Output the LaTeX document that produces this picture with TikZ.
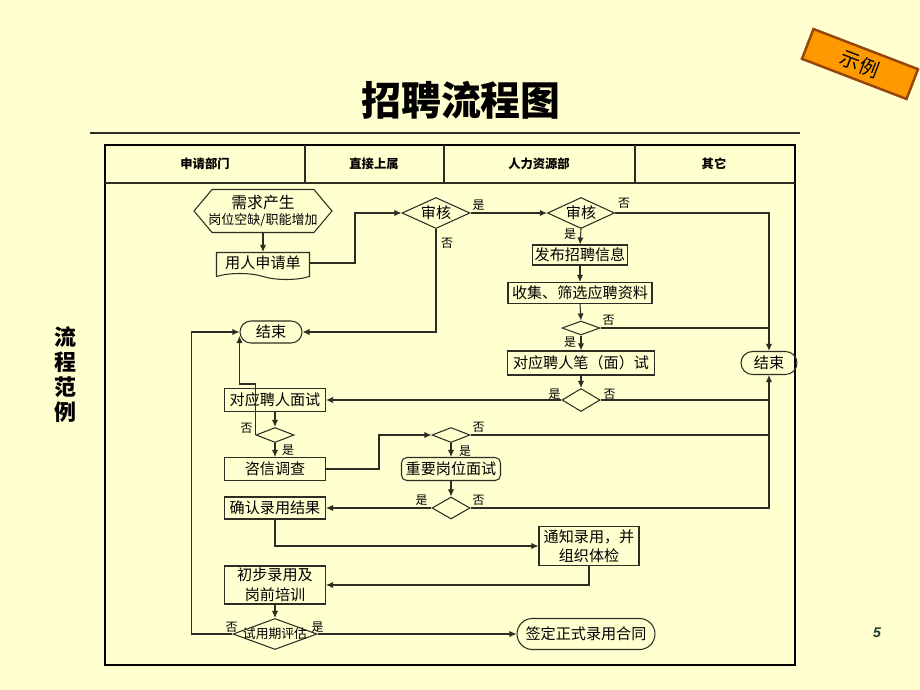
\documentclass[tikz,border=0pt]{standalone}
\usepackage{fontspec}
\setmainfont{Noto Sans CJK SC}
\newfontfamily\numfont{Liberation Sans}
\usetikzlibrary{shapes.geometric,shapes.symbols,shapes.misc,calc,arrows.meta}
\definecolor{paper}{RGB}{255,255,208}
\definecolor{ink}{RGB}{45,45,35}
\definecolor{badge}{RGB}{255,153,0}
\definecolor{badgeline}{RGB}{150,70,10}
\definecolor{pagenum}{RGB}{30,60,50}

\begin{document}
\begin{tikzpicture}[
  x=0.02cm, y=-0.02cm,
  line width=0.6pt,
  txt/.style={font=\fontsize{8.6}{10.8}\selectfont},
  box/.style={
    txt,
    rectangle,
    draw=ink,
    inner sep=0pt,
    minimum width=2.02cm,
    minimum height=0.46cm,
    align=center
  },
  dia/.style={
    diamond,
    draw=ink,
    inner sep=0pt,
    minimum width=0.76cm,
    minimum height=0.3cm
  },
  stop/.style={
    txt,
    rounded rectangle,
    draw=ink,
    inner sep=0pt,
    minimum width=1.2cm,
    minimum height=0.46cm
  },
  lbl/.style={font=\fontsize{6.8}{8}\selectfont, inner sep=0pt},
  head/.style={font=\fontsize{7}{8}\selectfont\bfseries, inner sep=0pt},
  arr/.style={draw=ink, -{Latex[length=4pt,width=3.6pt]}},
  con/.style={draw=ink}
]
% page
\useasboundingbox[fill=paper] (0,0) rectangle (920,690);

% title and frame
\node[font=\fontsize{22.7}{26}\selectfont\bfseries] (title) at (461,100) {招聘流程图};
\draw[ink, line width=1.2pt] (90,133) -- (800,133);
\draw[black, line width=1.6pt] (105,145) rectangle (795,665);
\draw[ink] (105,183) -- (795,183);
\foreach \cx in {305,444,635}
  \draw[ink] (\cx,145) -- (\cx,183);
\node[head] (h1) at (205,164) {申请部门};
\node[head] (h2) at (374,164) {直接上属};
\node[head] (h3) at (539,164) {人力资源部};
\node[head] (h4) at (714,164) {其它};
\node[font=\fontsize{12.5}{14.2}\selectfont\bfseries, align=center] (side) at (65,375) {流\\程\\范\\例};

% badge and page number
\node[rotate=-21, fill=badge, draw=badgeline, line width=1.4pt,
  minimum width=2.24cm, minimum height=0.64cm,
  font=\fontsize{11.3}{12}\selectfont] (badge) at (860,64) {示例};
\node[text=pagenum, font=\numfont\fontsize{8}{9}\selectfont\bfseries\itshape] (pg) at (877,633) {5};

% nodes
\node[signal, signal to=west and east, signal pointer angle=100, draw=ink,
  minimum width=2.76cm, minimum height=0.86cm, inner sep=0pt,
  label={[align=center, font=\fontsize{7.4}{9}\selectfont]center:{\fontsize{9}{10}\selectfont 需求产生}\\岗位空缺/职能增加}]
  (need) at (263,211) {};
\node[txt, tape, tape bend top=none, tape bend bottom=out and in, tape bend height=0.12cm,
  draw=ink, inner sep=0pt, minimum width=1.86cm, minimum height=0.54cm] (app) at (263,263) {用人申请单};
\node[dia, minimum width=1.36cm, minimum height=0.62cm, label={[txt]center:审核}] (d1) at (436,213) {};
\node[dia, minimum width=1.34cm, minimum height=0.62cm, label={[txt]center:审核}] (d2) at (581,213) {};
\node[box, minimum width=1.9cm, minimum height=0.4cm] (pub) at (580,255) {发布招聘信息};
\node[box, minimum width=2.88cm, minimum height=0.42cm] (col) at (580,293) {收集、筛选应聘资料};
\node[dia, minimum height=0.28cm] (d3) at (581,328) {};
\node[box, minimum width=2.94cm, minimum height=0.48cm] (wt) at (581,363) {对应聘人笔（面）试};
\node[stop, minimum width=1.12cm] (end2) at (769,363) {结束};
\node[dia, minimum height=0.46cm] (d4) at (581,400) {};
\node[box] (iv) at (275,400) {对应聘人面试};
\node[stop, minimum width=1.24cm, minimum height=0.44cm] (end1) at (271,332) {结束};
\node[dia] (d5) at (275,435) {};
\node[box] (ref) at (275,469) {咨信调查};
\node[dia] (d6) at (451,435) {};
\node[box, rounded corners=3pt, minimum width=1.98cm] (key) at (451,469) {重要岗位面试};
\node[dia, minimum height=0.44cm] (d7) at (451,508) {};
\node[box, minimum height=0.44cm] (conf) at (275,508) {确认录用结果};
\node[box, minimum width=2cm, minimum height=0.78cm] (notice) at (589,546) {通知录用，并\\组织体检};
\node[box, minimum height=0.76cm, font=\fontsize{8.6}{11.3}\selectfont] (train) at (275,585) {初步录用及\\岗前培训};
\node[dia, minimum width=1.68cm, minimum height=0.62cm,
  label={[font=\fontsize{7.3}{8}\selectfont]center:试用期评估}] (d8) at (275,634) {};
\node[stop, minimum width=2.76cm, minimum height=0.62cm] (sign) at (586,634) {签定正式录用合同};

% connectors
\draw[arr] (need.south) -- (app.north);
\draw[arr] (app.east) -- ++(45,0) |- (d1.west);
\draw[arr] (d1.east) -- (d2.west);
\draw[arr] (d1.south) |- (end1.east);
\draw[arr] (d2.south) -- (pub.north);
\draw[arr] (d2.east) -| (end2.north);
\draw[arr] (pub.south) -- (col.north);
\draw[arr] (col.south) -- (d3.north);
\draw[con] (d3.east) -- (d3.east -| end2.north);
\draw[arr] (d3.south) -- (wt.north);
\draw[arr] (wt.south) -- (d4.north);
\draw[arr] (d4.west) -- (iv.east);
\draw[con] (d4.east) -- (d4.east -| end2.south);
\draw[arr] (iv.south) -- (d5.north);
\draw[arr] (d5.west) -- ++(0,-51) -| ($(end1.west)+(0,4)$);
\draw[arr] (d5.south) -- (ref.north);
\draw[arr] (ref.east) -- ++(53,0) |- (d6.west);
\draw[arr] (d6.south) -- (key.north);
\draw[con] (d6.east) -- (d6.east -| end2.south);
\draw[arr] (key.south) -- (d7.north);
\draw[arr] (d7.west) -- (conf.east);
\draw[arr] (d7.east) -| (end2.south);
\draw[arr] (conf.south) |- (notice.west);
\draw[arr] (notice.south) |- (train.east);
\draw[arr] (train.south) -- (d8.north);
\draw[arr] (d8.west) -- ++(-41,0) |- (end1.west);
\draw[arr] (d8.east) -- (sign.west);

% yes / no
\node[lbl] (y1) at ($(d1.east)+(8,-8)$) {是};
\node[lbl] (n1) at ($(d1.south)+(11,14)$) {否};
\node[lbl] (n2) at ($(d2.east)+(9,-10)$) {否};
\node[lbl] (y2) at ($(d2.south)+(-11,5)$) {是};
\node[lbl] (n3) at ($(d3.east)+(8,-8)$) {否};
\node[lbl] (y3) at ($(d3.south)+(-11,7)$) {是};
\node[lbl] (y4) at ($(d4.west)+(-7,-6)$) {是};
\node[lbl] (n4) at ($(d4.east)+(9,-6)$) {否};
\node[lbl] (n5) at ($(d5.west)+(-9,-7)$) {否};
\node[lbl] (y5) at ($(d5.south)+(13,7)$) {是};
\node[lbl] (n6) at ($(d6.east)+(8,-8)$) {否};
\node[lbl] (y6) at ($(d6.south)+(14,8)$) {是};
\node[lbl] (y7) at ($(d7.west)+(-10,-8)$) {是};
\node[lbl] (n7) at ($(d7.east)+(8,-8)$) {否};
\node[lbl] (n8) at ($(d8.west)+(-1,-7)$) {否};
\node[lbl] (y8) at ($(d8.east)+(0,-7)$) {是};
\end{tikzpicture}
\end{document}
